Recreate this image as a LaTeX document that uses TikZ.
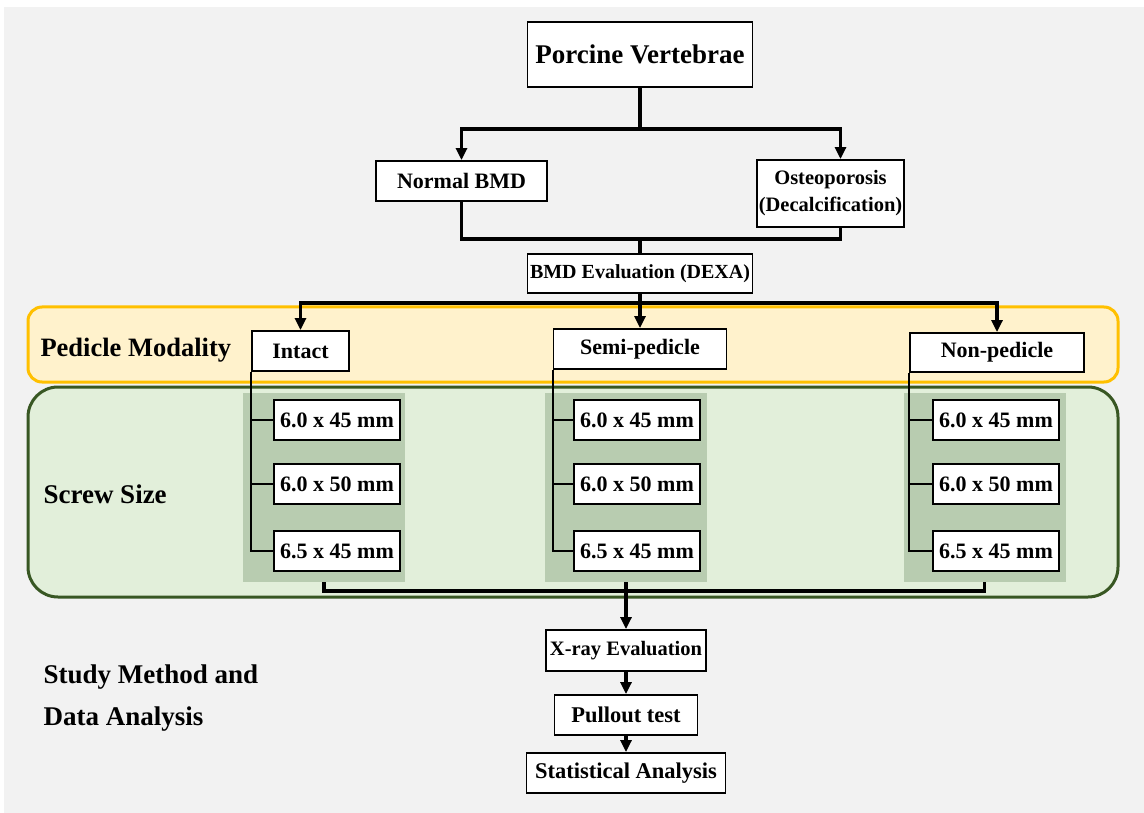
\documentclass[tikz,border=0pt]{standalone}
\usepackage{fontspec}
\setmainfont{Liberation Serif}
\usetikzlibrary{arrows.meta}

\definecolor{bggray}{HTML}{F2F2F2}
\definecolor{bandyellow}{HTML}{FFF2CC}
\definecolor{bandorange}{HTML}{FFC000}
\definecolor{bandgreen}{HTML}{E2EFDA}
\definecolor{darkgreen}{HTML}{385723}
\definecolor{panelgreen}{HTML}{B8CCB0}

\newcommand{\bsize}[1]{\bfseries\fontsize{#1}{#1}\selectfont}

\tikzset{
  box/.style={draw, line width=1.9pt, fill=white, inner sep=0pt, align=center},
  screwbox/.style={box, minimum width=126pt, minimum height=40pt, font=\bsize{22}},
  panel/.style={fill=panelgreen, inner sep=0pt, minimum width=162pt, minimum height=189pt},
  conn/.style={line width=3.4pt},
  arr/.style={line width=3.4pt, -{Triangle[length=12pt,width=11pt]}},
  tree/.style={line width=1.9pt},
  sidetext/.style={anchor=base west, align=left, font=\bfseries\fontsize{27}{42}\selectfont}
}

\begin{document}
\begin{tikzpicture}[x=1pt, y=-1pt]
% background
\fill[white] (0,0) rectangle (1144,813);
\fill[bggray] (4,7) rectangle (1144,813);
\useasboundingbox (0,0) rectangle (1144,813);

% bands
\draw[bandorange, line width=3pt, fill=bandyellow, rounded corners=14pt] (28,307) rectangle (1118,382);
\draw[darkgreen, line width=3pt, fill=bandgreen, rounded corners=30pt] (28,387) rectangle (1118,597);
\node[sidetext, font=\bsize{26.5}] (modality) at (37,356) {Pedicle Modality};
\node[sidetext] (screwsize) at (40,503) {Screw Size};
\node[sidetext] (method) at (40,725) {Study Method and\\Data Analysis};

% top part
\node[box, minimum width=225pt, minimum height=65pt, font=\bsize{27}] (porcine) at (640,54.5) {Porcine Vertebrae};
\node[box, minimum width=171pt, minimum height=40pt, font=\bsize{22}] (normal) at (461.5,181) {Normal BMD};
\node[box, minimum width=147pt, minimum height=67pt, font=\bfseries\fontsize{20.5}{27}\selectfont] (osteo) at (830.5,193.5) {Osteoporosis\\(Decalcification)};
\node[box, minimum width=225pt, minimum height=39pt, font=\bsize{20}] (dexa) at (640,273.5) {BMD Evaluation (DEXA)};

\coordinate (split1) at (640,129);
\coordinate (join1) at (640,239);
\coordinate (split2) at (640,303);
\draw[conn] (porcine.south) -- (split1);
\draw[arr] (split1) -| (normal.north);
\draw[arr] (split1) -| ([xshift=10pt]osteo.north);
\draw[conn] (normal.south) |- (join1) -| ([xshift=10pt]osteo.south);
\draw[conn] (join1) -- (dexa.north);

% pedicle modality
\node[box, minimum width=97pt, minimum height=40pt, font=\bsize{22}] (intact) at (300.5,351) {Intact};
\node[box, minimum width=173pt, minimum height=40pt, font=\bsize{22}] (semi) at (640,349) {Semi-pedicle};
\node[box, minimum width=174pt, minimum height=39pt, font=\bsize{22}] (non) at (997,352.5) {Non-pedicle};
\draw[conn] (dexa.south) -- (split2);
\draw[arr] (split2) -| (intact.north);
\draw[arr] (split2) -- (semi.north);
\draw[arr] (split2) -| (non.north);

% screw size
\node[panel] (ipanel) at (324,487.5) {};
\node[panel] (spanel) at (626,487.5) {};
\node[panel] (npanel) at (984.5,487.5) {};
\node[screwbox] (i1) at (337,420) {6.0 x 45 mm};
\node[screwbox] (i2) at (337,484) {6.0 x 50 mm};
\node[screwbox] (i3) at (337,551) {6.5 x 45 mm};
\node[screwbox] (s1) at (637,420) {6.0 x 45 mm};
\node[screwbox] (s2) at (637,484) {6.0 x 50 mm};
\node[screwbox] (s3) at (637,551) {6.5 x 45 mm};
\node[screwbox] (n1) at (996,420) {6.0 x 45 mm};
\node[screwbox] (n2) at (996,484) {6.0 x 50 mm};
\node[screwbox] (n3) at (996,551) {6.5 x 45 mm};
\draw[tree] (intact.south west) |- (i3.west);
\draw[tree] (intact.south west |- i1.west) -- (i1.west);
\draw[tree] (intact.south west |- i2.west) -- (i2.west);
\draw[tree] (semi.south west) |- (s3.west);
\draw[tree] (semi.south west |- s1.west) -- (s1.west);
\draw[tree] (semi.south west |- s2.west) -- (s2.west);
\draw[tree] (non.south west) |- (n3.west);
\draw[tree] (non.south west |- n1.west) -- (n1.west);
\draw[tree] (non.south west |- n2.west) -- (n2.west);

% study method and data analysis
\node[box, minimum width=160pt, minimum height=41pt, font=\bsize{20.5}] (xray) at (626,650.5) {X-ray Evaluation};
\node[box, minimum width=143pt, minimum height=40pt, font=\bsize{22.5}] (pullout) at (626,715) {Pullout test};
\node[box, minimum width=199pt, minimum height=40pt, font=\bsize{22.5}] (stats) at (626,773) {Statistical Analysis};
\coordinate (merge) at (626,591);
\draw[conn] (ipanel.south) |- (merge) -| (npanel.south);
\draw[arr] (spanel.south) -- (xray.north);
\draw[arr] (xray.south) -- (pullout.north);
\draw[arr] (pullout.south) -- (stats.north);
\end{tikzpicture}
\end{document}
